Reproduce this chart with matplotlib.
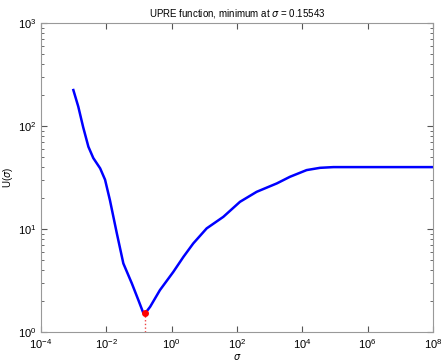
import numpy as np
import matplotlib
matplotlib.use("Agg")
import matplotlib.pyplot as plt

# values (log10 sigma, log10 U)
log_sigma = [-3.01, -2.86, -2.71, -2.55, -2.40, -2.19, -2.04, -1.89, -1.68,
             -1.48, -1.22, -1.02, -0.87, -0.808, -0.66, -0.36, 0.05, 0.36,
             0.66, 1.07, 1.58, 2.09, 2.60, 3.22, 3.62, 4.13, 4.54, 4.95,
             6.0, 7.0, 8.0]
log_u = [2.35, 2.19, 1.99, 1.80, 1.69, 1.59, 1.48, 1.28, 0.96,
         0.667, 0.473, 0.311, 0.187, 0.184, 0.246, 0.408, 0.585, 0.731,
         0.861, 1.007, 1.119, 1.265, 1.362, 1.444, 1.508, 1.573, 1.595, 1.602,
         1.602, 1.602, 1.602]
sigma_min = 0.15543
u_min = 10 ** 0.184

sigma = 10 ** np.array(log_sigma)
u = 10 ** np.array(log_u)

plt.rcParams['font.family'] = ['Liberation Sans', 'DejaVu Sans']
plt.rcParams['mathtext.fontset'] = 'dejavusans'

fig = plt.figure(figsize=(4.41, 3.61), dpi=100)
ax = fig.add_axes([0.093, 0.080, 0.889, 0.856])

ax.loglog(sigma, u, color='#0000ff', lw=1.8, solid_joinstyle='round')
ax.plot([sigma_min, sigma_min], [1, u_min], color='#ee4444', ls=':', lw=1.0)
ax.plot(sigma_min, u_min, 'o', color='red', ms=4)

ax.set_xlim(1e-4, 1e8)
ax.set_ylim(1, 1e3)
ax.set_xticks([10.0 ** k for k in range(-4, 9, 2)])
ax.xaxis.set_minor_locator(matplotlib.ticker.NullLocator())
ax.tick_params(which='both', direction='in', top=True, right=True,
               labelsize=8, color='#555555')
ax.tick_params(which='major', length=4)
ax.tick_params(which='minor', length=2)
for s in ax.spines.values():
    s.set_color('#999999')

ax.set_title(r'UPRE function, minimum at $\sigma$ = 0.15543', fontsize=7, pad=5)
ax.set_xlabel(r'$\sigma$', fontsize=7, labelpad=1)
ax.set_ylabel(r'U($\sigma$)', fontsize=7, labelpad=2)

fig.savefig('out.png', dpi=100)
